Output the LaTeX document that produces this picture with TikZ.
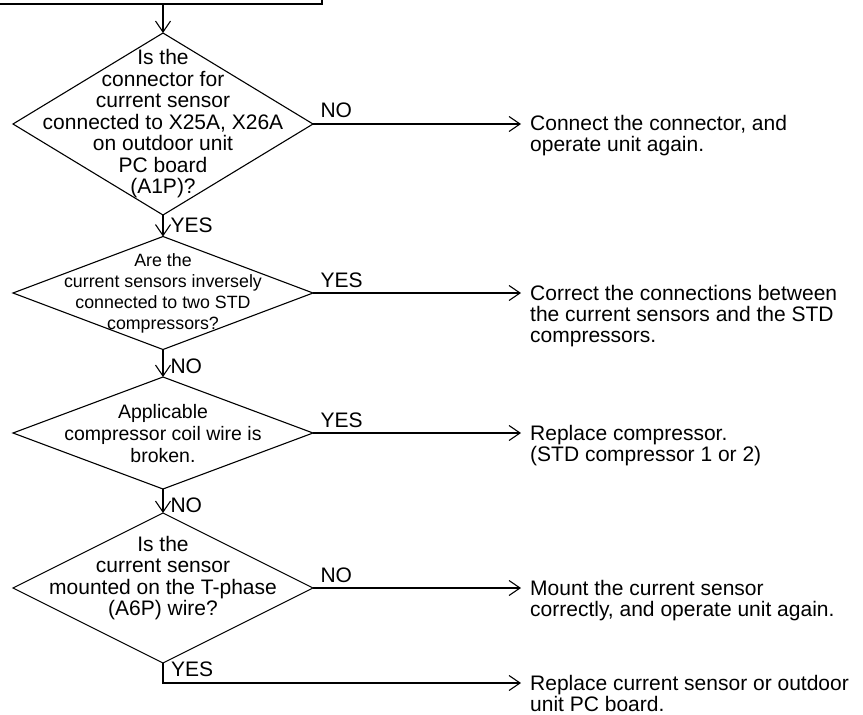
\documentclass[tikz,border=0pt]{standalone}
\usepackage{fontspec}
\setmainfont{Liberation Sans}
\usetikzlibrary{shapes.geometric,arrows.meta,calc}

\tikzset{
  flow/.style={line width=1.1pt, -{Straight Barb[length=11pt,width=15pt]}},
  decision/.style={draw, diamond, line width=1.1pt, minimum width=300pt, inner sep=0pt, outer sep=0pt},
  qtext/.style={align=center, inner sep=0pt, font=\fontsize{21}{21.5}\selectfont},
  result/.style={align=left, inner sep=0pt, anchor=north west, font=\fontsize{21}{21}\selectfont},
  lbl/.style={inner sep=0pt, font=\fontsize{21}{21}\selectfont},
}

\begin{document}
\begin{tikzpicture}[x=1pt, y=-1pt]
  \useasboundingbox (0,0) rectangle (863,715);

  % box of the step before, only its lower edge is on the page
  \node[draw, line width=1.3pt, minimum width=360pt, minimum height=60pt,
        inner sep=0pt, outer sep=0pt, anchor=south east] (prev) at (322,4) {};

  % the four checks
  \node[decision, minimum height=182pt] (q1) at (163,124) {};
  \node[qtext] (q1t) at (q1) {Is the\\connector for\\current sensor\\connected to X25A, X26A\\on outdoor unit\\PC board\\(A1P)?};

  \node[decision, minimum height=113pt] (q2) at (163,293) {};
  \node[qtext, font=\fontsize{17.8}{21}\selectfont] (q2t) at (q2) {Are the\\current sensors inversely\\connected to two STD\\compressors?};

  \node[decision, minimum height=112pt] (q3) at (163,433) {};
  \node[qtext, font=\fontsize{19.5}{22}\selectfont] (q3t) at ([yshift=-1pt]q3.center) {Applicable\\compressor coil wire is\\broken.};

  \node[decision, minimum height=150pt] (q4) at (163,588) {};
  \node[qtext] (q4t) at ([yshift=10pt]q4.center) {Is the\\current sensor\\mounted on the T-phase\\(A6P) wire?};

  % what to do
  \node[result] (r1) at (530,115) {Connect the connector, and\\operate unit again.};
  \node[result] (r2) at (530,285) {Correct the connections between\\the current sensors and the STD\\compressors.};
  \node[result] (r3) at (530,425) {Replace compressor.\\(STD compressor 1 or 2)};
  \node[result] (r4) at (530,580) {Mount the current sensor\\correctly, and operate unit again.};
  \node[result] (r5) at (530,675) {Replace current sensor or outdoor\\unit PC board.};

  % down the main line
  \draw[flow] (prev.south -| q1.north) -- (q1.north);
  \draw[flow] (q1.south) -- node[lbl, right=7pt] {YES} (q2.north);
  \draw[flow] (q2.south) -- node[lbl, right=7pt, yshift=-3pt] {NO} (q3.north);
  \draw[flow] (q3.south) -- node[lbl, right=7pt, yshift=-4pt] {NO} (q4.north);

  % out to the right
  \draw[flow, shorten >=9pt] (q1.east) -- node[lbl, pos=0, anchor=base west, xshift=7pt, yshift=7pt] {NO} (q1.east -| r1.west);
  \draw[flow, shorten >=9pt] (q2.east) -- node[lbl, pos=0, anchor=base west, xshift=7pt, yshift=6pt] {YES} (q2.east -| r2.west);
  \draw[flow, shorten >=9pt] (q3.east) -- node[lbl, pos=0, anchor=base west, xshift=7pt, yshift=6pt] {YES} (q3.east -| r3.west);
  \draw[flow, shorten >=9pt] (q4.east) -- node[lbl, pos=0, anchor=base west, xshift=7pt, yshift=6pt] {NO} (q4.east -| r4.west);
  \draw[flow, shorten >=9pt] (q4.south) |- ([yshift=-8pt]r5.north west);
  \node[lbl, anchor=base west] (yes4) at ([xshift=8pt, yshift=-13.5pt]q4.south) {YES};
\end{tikzpicture}
\end{document}
